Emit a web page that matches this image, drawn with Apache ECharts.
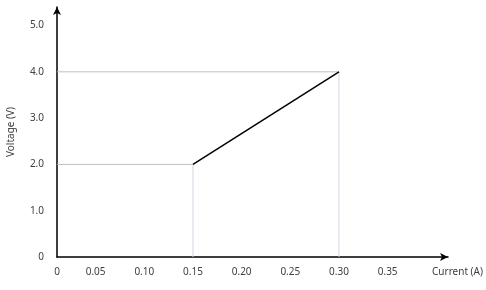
<!DOCTYPE html>
<html><head><meta charset="utf-8">
<script src="https://cdn.jsdelivr.net/npm/echarts@6/dist/echarts.min.js"></script>
<style>html,body{margin:0;padding:0;background:#fff}#c{width:486px;height:290px}</style>
</head><body><div id="c"></div>
<script>
const lineX = [0.15, 0.30];
const lineY = [2.0, 4.0];
const guideH1 = [[0, 2.0], [0.15, 2.0]];
const guideH2 = [[0, 4.0], [0.30, 4.0]];
const guideV1 = [[0.15, 0], [0.15, 2.0]];
const guideV2 = [[0.30, 0], [0.30, 4.0]];
const xTicks = [0, 0.05, 0.10, 0.15, 0.20, 0.25, 0.30, 0.35];
const yTicks = [0, 1.0, 2.0, 3.0, 4.0, 5.0];

const X_MIN = 0.0103;   // where the drawn axis starts (labelled "0")
const font = 'Noto Sans';
const chart = echarts.init(document.getElementById('c'));
const guide = (d, color) => ({type:'line', data:d.map(p => [Math.max(p[0], X_MIN), p[1]]), symbol:'none', silent:true,
  lineStyle:{color:color, width:1}, z:1});
chart.setOption({
  animation:false,
  grid:{left:57, right:38, top:7, bottom:33, containLabel:false, outerBoundsMode:'none'},
  xAxis:{type:'value', min:X_MIN, max:0.412,
    axisLine:{show:true, symbol:['none','arrow'], symbolSize:[6,8], lineStyle:{color:'#000', width:1.5}},
    axisTick:{show:false}, splitLine:{show:false},
    axisLabel:{fontFamily:font, fontSize:10, color:'#404040', margin:10,
      customValues:[X_MIN].concat(xTicks.slice(1)),
      formatter:v => (v === X_MIN || Math.abs(v) < 1e-9) ? '0' : v.toFixed(2)},
    name:'Current (A)', nameLocation:'end', nameGap:0,
    nameTextStyle:{fontFamily:font, fontSize:10, color:'#404040', align:'left', verticalAlign:'top', padding:[10,0,0,-16]}
  },
  yAxis:{type:'value', min:0, max:5.4, interval:1,
    axisLine:{show:true, symbol:['none','arrow'], symbolSize:[6,8], lineStyle:{color:'#000', width:1.5}},
    axisTick:{show:false}, splitLine:{show:false},
    axisLabel:{fontFamily:font, fontSize:10, color:'#404040', margin:13,
      formatter:v => { const t = yTicks.find(y => Math.abs(y - v) < 1e-6); return t === undefined ? '' : (t === 0 ? '0' : t.toFixed(1)); }},
    name:'Voltage (V)', nameLocation:'middle', nameGap:41,
    nameTextStyle:{fontFamily:font, fontSize:10, color:'#404040'}
  },
  series:[
    guide(guideH1, '#bfbfbf'),
    guide(guideH2, '#bfbfbf'),
    guide(guideV1, '#d0d7e5'),
    guide(guideV2, '#d0d7e5'),
    {type:'line', data:lineX.map((x,i)=>[x,lineY[i]]), symbol:'none',
      lineStyle:{color:'#000', width:1.5}, z:3}
  ]
});
</script></body></html>
